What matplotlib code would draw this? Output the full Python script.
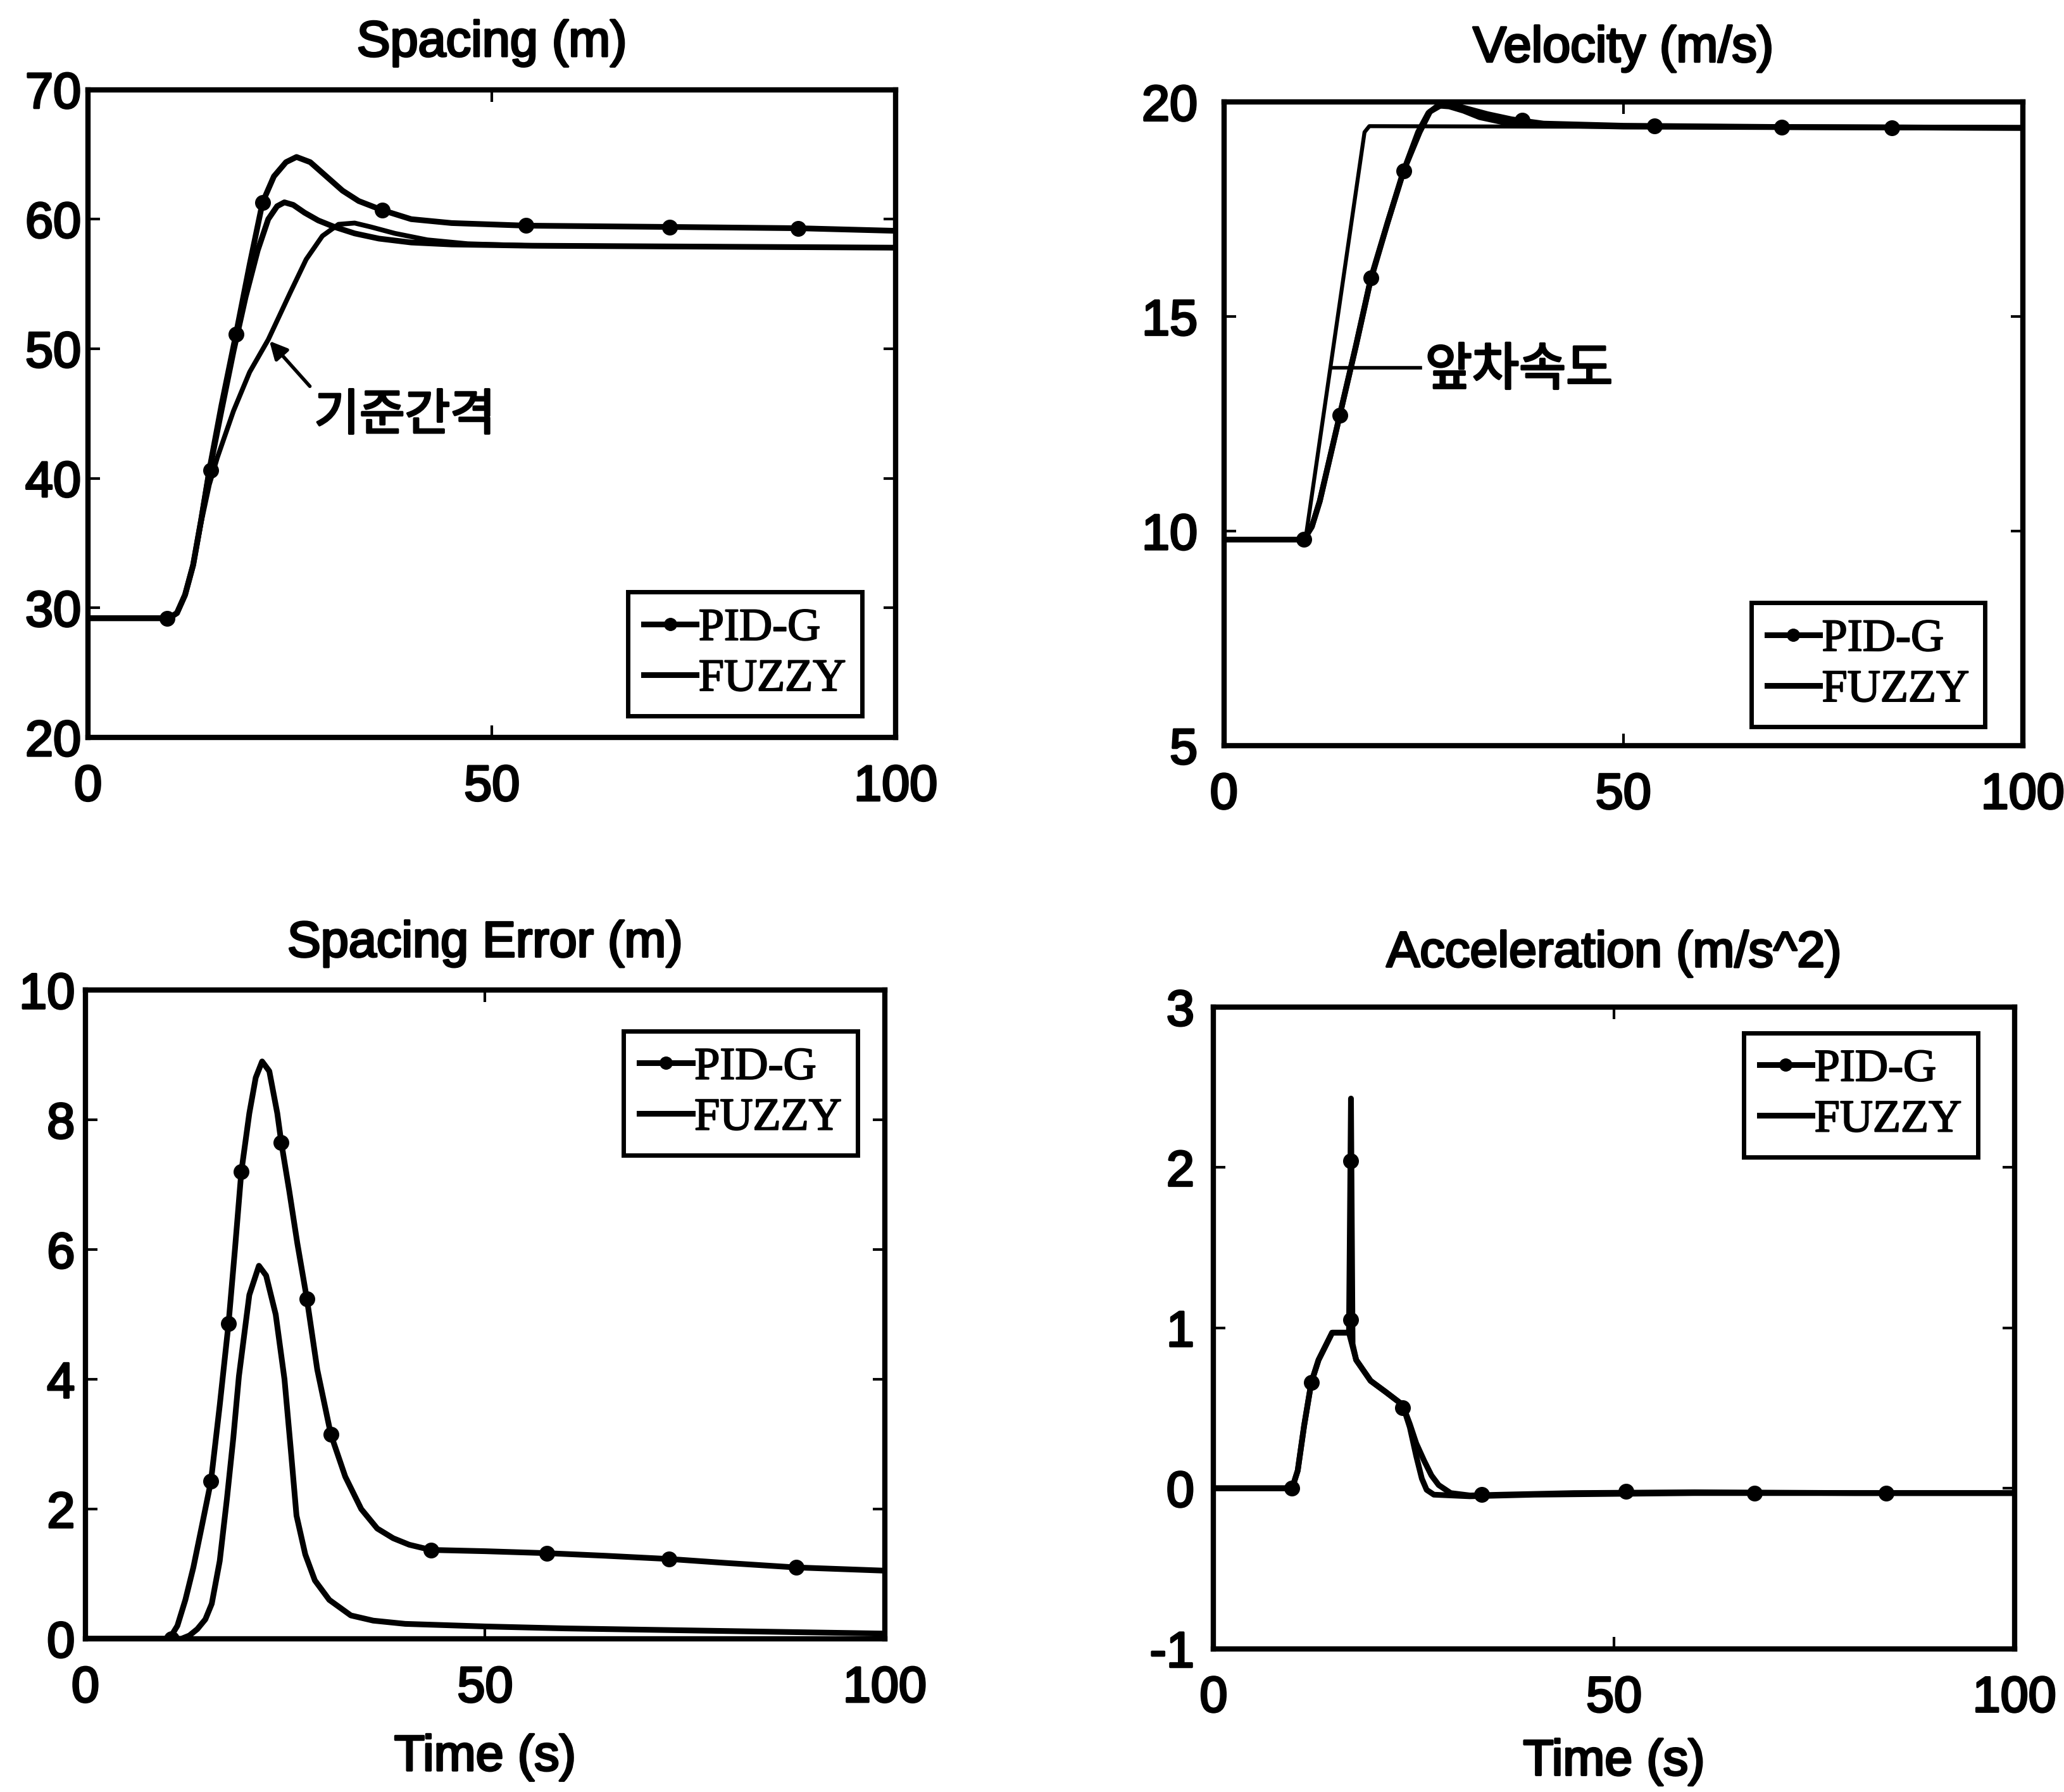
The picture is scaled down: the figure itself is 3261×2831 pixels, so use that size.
import numpy as np
import matplotlib
matplotlib.use('Agg')
import matplotlib.pyplot as plt
import matplotlib.patheffects as pe
from matplotlib.lines import Line2D

plt.rcParams['font.family'] = ['Liberation Sans', 'DejaVu Sans']
plt.rcParams['axes.unicode_minus'] = False

# ---------------- Spacing (m) ----------------
t_sp_pid = [0, 10, 11, 12, 13, 14, 15, 16.5, 18.3, 20, 21.6, 23, 24.5, 25.8, 27.5, 29.5, 31.5,
            33.5, 36.4, 40, 45, 54.2, 72, 88, 100]
sp_pid = [29.2, 29.2, 29.6, 31.0, 33.3, 36.8, 40.6, 45.6, 51.1, 56.5, 61.3, 63.3, 64.4, 64.8,
          64.4, 63.3, 62.2, 61.4, 60.7, 60.0, 59.7, 59.5, 59.4, 59.3, 59.1]
t_sp_pid_mk = [9.8, 15.2, 18.3, 21.6, 36.4, 54.2, 72.0, 87.9]
sp_pid_mk = [29.2, 40.6, 51.1, 61.3, 60.7, 59.5, 59.4, 59.3]

t_sp_fuz = [0, 10, 11, 12, 13, 14, 15, 16.5, 18, 19.5, 21, 22.3, 23.4, 24.3, 25.4, 26.8, 28.5,
            30.5, 33, 36, 40, 45, 55, 70, 100]
sp_fuz = [29.2, 29.2, 29.6, 31.0, 33.3, 36.8, 40.5, 45.2, 49.8, 54.0, 57.6, 60.0, 61.0, 61.3,
          61.1, 60.5, 59.9, 59.4, 58.9, 58.5, 58.2, 58.05, 57.95, 57.9, 57.8]

t_sp_ref = [0, 10, 11, 12, 13, 14, 15, 16, 18, 20, 22.3, 25, 27, 29, 31, 33, 35, 38, 42, 47, 55,
            100]
sp_ref = [29.2, 29.2, 29.6, 31.0, 33.3, 36.6, 39.5, 41.6, 45.2, 48.2, 50.7, 54.3, 56.9, 58.7,
          59.6, 59.7, 59.4, 58.9, 58.4, 58.1, 57.95, 57.8]

# ---------------- Velocity (m/s) ----------------
t_v_pid = [0, 10, 11, 12, 13, 14, 14.5, 15.5, 16.5, 18.4, 20.5, 22.5, 24.5, 25.8, 27.2, 29, 31,
           33, 36, 40, 50, 70, 100]
v_pid = [9.8, 9.8, 10.1, 10.7, 11.5, 12.3, 12.7, 13.5, 14.3, 15.9, 17.2, 18.4, 19.3, 19.78, 19.93,
         19.92, 19.82, 19.72, 19.6, 19.5, 19.45, 19.42, 19.4]
t_v_pid_mk = [10, 14.5, 18.4, 22.5, 37.3, 53.9, 69.8, 83.6]
v_pid_mk = [9.8, 12.7, 15.9, 18.4, 19.58, 19.45, 19.42, 19.4]

t_v_fuz = [0, 10, 11, 12, 13, 14, 15, 16.5, 18.3, 20.5, 22.5, 24.3, 25.6, 26.8, 28.2, 30, 32, 35,
           40, 50, 100]
v_fuz = [9.8, 9.8, 10.1, 10.7, 11.5, 12.3, 13.1, 14.3, 15.8, 17.2, 18.4, 19.3, 19.75, 19.92,
         19.9, 19.8, 19.65, 19.53, 19.47, 19.43, 19.4]

t_v_lead = [0, 10.2, 17.6, 18.2, 100]
v_lead = [9.8, 9.8, 19.3, 19.44, 19.4]

# ---------------- Spacing Error (m) ----------------
t_e_pid = [0, 10.5, 11.5, 12.5, 13.5, 14.5, 15.7, 16.8, 17.9, 18.7, 19.5, 20.5, 21.3, 22.1, 23,
           24, 24.5, 25.5, 26.5, 27.7, 29, 30.7, 32.5, 34.5, 36.5, 38.5, 40.5, 43.2, 50, 57.7,
           65, 73, 80, 88.9, 100]
e_pid = [0, 0, 0.2, 0.6, 1.1, 1.7, 2.43, 3.6, 4.86, 6.0, 7.2, 8.1, 8.65, 8.9, 8.75, 8.1, 7.65,
         6.9, 6.1, 5.24, 4.15, 3.15, 2.5, 2.0, 1.7, 1.55, 1.45, 1.37, 1.35, 1.32, 1.28, 1.23,
         1.17, 1.10, 1.05]
t_e_pid_mk = [10.8, 15.7, 17.9, 19.5, 24.5, 27.7, 30.7, 43.2, 57.7, 73.0, 88.9]
e_pid_mk = [0, 2.43, 4.86, 7.2, 7.65, 5.24, 3.15, 1.37, 1.32, 1.23, 1.10]

t_e_fuz = [0, 12, 13, 14, 15, 15.8, 16.8, 17.7, 18.5, 19.2, 20.5, 21.7, 22.6, 23.8, 24.9, 25.7,
           26.4, 27.5, 28.7, 30.5, 33.2, 36, 40, 50, 60, 80, 100]
e_fuz = [0, 0, 0.05, 0.15, 0.3, 0.54, 1.2, 2.16, 3.1, 4.05, 5.3, 5.75, 5.6, 5.0, 4.0, 2.9, 1.9,
         1.3, 0.9, 0.6, 0.36, 0.28, 0.23, 0.19, 0.16, 0.12, 0.08]

# ---------------- Acceleration (m/s^2) ----------------
t_a_pid = [0, 9.8, 10.5, 11.3, 12.2, 13.1, 14.8, 16.9, 17.15, 17.35, 17.8, 19.6, 21.5, 23.6,
           24.5, 25.3, 26.3, 27.2, 28.1, 29.6, 32, 36, 45, 60, 80, 100]
a_pid = [0, 0, 0.11, 0.39, 0.66, 0.8, 0.97, 0.97, 2.43, 0.9, 0.8, 0.67, 0.6, 0.52, 0.4, 0.28,
         0.17, 0.08, 0.02, -0.03, -0.045, -0.04, -0.03, -0.025, -0.03, -0.03]
t_a_pid_mk = [9.8, 12.2, 17.15, 17.15, 23.6, 33.5, 51.5, 67.5, 84.0]
a_pid_mk = [0, 0.66, 2.04, 1.05, 0.5, -0.04, -0.02, -0.03, -0.03]

t_a_fuz = [0, 9.8, 10.5, 11.3, 12.2, 13.1, 14.8, 16.9, 17.8, 19.6, 21.5, 23.6, 24.5, 25.3, 26.0,
           26.6, 27.5, 32, 40, 60, 100]
a_fuz = [0, 0, 0.11, 0.39, 0.66, 0.8, 0.97, 0.97, 0.8, 0.67, 0.6, 0.52, 0.38, 0.2, 0.06, -0.01,
         -0.04, -0.05, -0.04, -0.03, -0.03]

LW = 6.5
MS = 17
TICK_FS = 57
TITLE_FS = 57
LEG_FS = 52
HEAVY = [pe.withStroke(linewidth=2.5, foreground='k')]
SERIF_HEAVY = [pe.withStroke(linewidth=1.5, foreground='k')]

fig = plt.figure(figsize=(32.61, 28.31), dpi=100)


def style_axes(ax, ylim, yticks, title, title_pad, ypad):
    ax.set_xlim(0, 100)
    ax.set_ylim(*ylim)
    ax.set_xticks([0, 50, 100])
    ax.set_yticks(yticks)
    for s in ax.spines.values():
        s.set_linewidth(6)
    ax.tick_params(direction='in', length=14, width=3, top=True, right=True,
                   labelsize=TICK_FS)
    ax.tick_params(axis='x', pad=30)
    ax.tick_params(axis='y', pad=ypad)
    for lbl in ax.get_xticklabels() + ax.get_yticklabels():
        lbl.set_path_effects(HEAVY)
    ax.set_title(title, fontsize=TITLE_FS, pad=title_pad, path_effects=HEAVY)


def add_legend(ax, loc, anchor):
    handles = [Line2D([], [], color='k', lw=LW, marker='o', ms=MS - 3),
               Line2D([], [], color='k', lw=LW)]
    leg = ax.legend(handles, ['PID-G', 'FUZZY'], loc=loc, bbox_to_anchor=anchor,
                    borderaxespad=0, fancybox=False, framealpha=1, edgecolor='k',
                    handlelength=1.15, handletextpad=0.05, borderpad=0.35,
                    labelspacing=0.2, prop={'family': 'Liberation Serif', 'size': LEG_FS})
    leg.get_frame().set_linewidth(5)
    for txt in leg.get_texts():
        txt.set_path_effects(SERIF_HEAVY)
    return leg


# Spacing
ax1 = fig.add_axes([0.0427, 0.5885, 0.3913, 0.3615])
ax1.plot(t_sp_ref, sp_ref, color='k', lw=LW - 1)
ax1.plot(t_sp_fuz, sp_fuz, color='k', lw=LW)
ax1.plot(t_sp_pid, sp_pid, color='k', lw=LW)
ax1.plot(t_sp_pid_mk, sp_pid_mk, 'o', color='k', ms=MS)
ax1.annotate('', xy=(22.3, 50.7), xytext=(27.6, 47.0),
             arrowprops=dict(arrowstyle='-|>', color='k', lw=4, mutation_scale=42))
ax1.text(28.0, 44.8, '기준간격', fontsize=56, family=['Noto Sans CJK KR'],
         ha='left', va='center', path_effects=HEAVY)
style_axes(ax1, (20, 70), [20, 30, 40, 50, 60, 70], 'Spacing (m)', 38, 8)
add_legend(ax1, 'lower right', (0.958, 0.033))

# Velocity
ax2 = fig.add_axes([0.593, 0.584, 0.387, 0.359])
ax2.plot(t_v_lead, v_lead, color='k', lw=LW - 2)
ax2.plot(t_v_fuz, v_fuz, color='k', lw=LW)
ax2.plot(t_v_pid, v_pid, color='k', lw=LW)
ax2.plot(t_v_pid_mk, v_pid_mk, 'o', color='k', ms=MS)
ax2.plot([13.4, 24.6], [13.8, 13.8], color='k', lw=4)
ax2.text(25.2, 13.75, '앞차속도', fontsize=58, family=['Noto Sans CJK KR'],
         ha='left', va='center', path_effects=HEAVY)
style_axes(ax2, (5, 20), [5, 10, 15, 20], 'Velocity (m/s)', 46, 30)
add_legend(ax2, 'lower right', (0.953, 0.029))

# Spacing error
ax3 = fig.add_axes([0.0414, 0.0855, 0.3873, 0.362])
ax3.plot(t_e_fuz, e_fuz, color='k', lw=LW)
ax3.plot(t_e_pid, e_pid, color='k', lw=LW)
ax3.plot(t_e_pid_mk, e_pid_mk, 'o', color='k', ms=MS)
style_axes(ax3, (0, 10), [0, 2, 4, 6, 8, 10], 'Spacing Error (m)', 38, 12)
ax3.set_xlabel('Time (s)', fontsize=TITLE_FS, labelpad=24, path_effects=HEAVY)
add_legend(ax3, 'upper right', (0.966, 0.937))

# Acceleration
ax4 = fig.add_axes([0.588, 0.080, 0.388, 0.358])
ax4.plot(t_a_fuz, a_fuz, color='k', lw=LW)
ax4.plot(t_a_pid, a_pid, color='k', lw=LW)
ax4.plot(t_a_pid_mk, a_pid_mk, 'o', color='k', ms=MS)
style_axes(ax4, (-1, 3), [-1, 0, 1, 2, 3], 'Acceleration (m/s^2)', 46, 22)
ax4.set_xlabel('Time (s)', fontsize=TITLE_FS, labelpad=18, path_effects=HEAVY)
add_legend(ax4, 'upper right', (0.954, 0.96))

fig.savefig('out.png', dpi=100, facecolor='white')
